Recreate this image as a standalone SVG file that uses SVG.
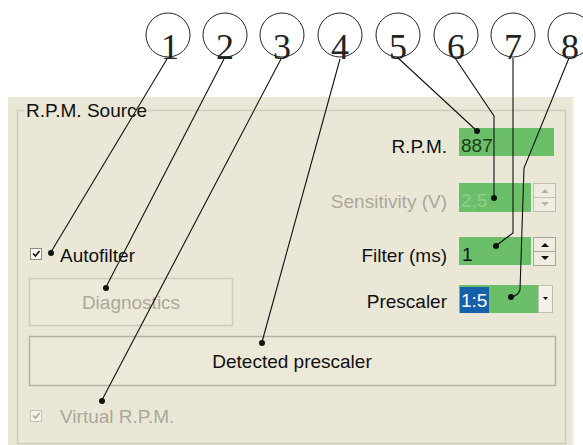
<svg xmlns="http://www.w3.org/2000/svg" width="583" height="445" viewBox="0 0 583 445">
<style>
.num{font-family:"Liberation Serif","Times New Roman",serif;font-size:36px;fill:#222;text-anchor:middle}
.ui{font-family:"Liberation Sans",Arial,sans-serif;font-size:19px;fill:#111}
.dis{fill:#ACA899}
.r{text-anchor:end}
.c{text-anchor:middle}
.ring{fill:none;stroke:#222;stroke-width:1}
.ld{fill:none;stroke:#111;stroke-width:1.1}
.dot{fill:#111}
.fld{fill:#6CBF69}
.btn{fill:#ECE9D8;stroke:#B5B2A2;stroke-width:1.5}
.spin{fill:#EFEDE2;stroke:#C2BFB0;stroke-width:1}
</style>
<rect width="583" height="445" fill="#fff"/>
<g id="panel">
<rect x="8" y="97" width="566" height="348" fill="#EAE7D7"/>
<line x1="573.5" y1="97" x2="573.5" y2="445" stroke="#F7F6F0" stroke-width="2"/>
<path d="M24 110.5H17.5V443.5H565.5V110.5H148" fill="none" stroke="#CFCCBC" stroke-width="1.5"/>
<text class="ui" x="26" y="117">R.P.M. Source</text>
</g>
<g id="autofilter">
<rect x="30.5" y="248.5" width="11" height="11" fill="#fff" stroke="#8E8B7C"/>
<path d="M33 253.5l2.5 2.5 4-5" fill="none" stroke="#111" stroke-width="1.6"/>
<text class="ui" x="60" y="262">Autofilter</text>
</g>
<g id="diagnostics">
<rect class="btn" x="29.5" y="278.5" width="203" height="47" style="stroke:#CFCCBD"/>
<text class="ui dis c" x="131" y="309">Diagnostics</text>
</g>
<g id="detected">
<rect class="btn" x="29.5" y="336.5" width="526" height="49"/>
<text class="ui c" x="292" y="368">Detected prescaler</text>
</g>
<g id="virtual">
<rect x="30.5" y="410.5" width="11" height="11" fill="#F3F1E8" stroke="#C6C3B3"/>
<path d="M33 415.5l2.5 2.5 4-5" fill="none" stroke="#ACA899" stroke-width="1.6"/>
<text class="ui dis" x="60" y="423">Virtual R.P.M.</text>
</g>
<g id="rpm">
<text class="ui r" x="447" y="153">R.P.M.</text>
<rect class="fld" x="459" y="128" width="95" height="28"/>
<text class="ui" x="461" y="152" style="fill:#1C3A1E">887</text>
</g>
<g id="sensitivity">
<text class="ui dis r" x="447" y="208">Sensitivity (V)</text>
<rect class="fld" x="459" y="183" width="72" height="29"/>
<text class="ui" x="461" y="207" style="fill:#93CD8F">2,5</text>
<rect class="spin" x="533.5" y="183.5" width="22" height="14"/>
<rect class="spin" x="533.5" y="197.5" width="22" height="14"/>
<path d="M541 193h8l-4-4z M541 202h8l-4 4z" fill="#B8B5A6"/>
</g>
<g id="filter">
<text class="ui r" x="447" y="262">Filter (ms)</text>
<rect class="fld" x="459" y="237" width="72" height="28"/>
<text class="ui" x="462" y="261">1</text>
<rect class="spin" x="533.5" y="237.5" width="22" height="14" style="stroke:#A9A696"/>
<rect class="spin" x="533.5" y="251.5" width="22" height="14" style="stroke:#A9A696"/>
<path d="M541 247h8l-4-4z M541 256h8l-4 4z" fill="#111"/>
</g>
<g id="prescaler">
<text class="ui r" x="447" y="308">Prescaler</text>
<rect class="fld" x="459" y="285" width="94" height="28"/>
<rect x="460" y="287" width="29" height="26" fill="#1560A8"/>
<text class="ui" x="461" y="307" style="fill:#fff">1:5</text>
<rect x="538.5" y="285.5" width="14" height="27" fill="#F3F1E8" stroke="#C2BFB0"/>
<path d="M543 297h5l-2.5 3z" fill="#111"/>
</g>
<g id="callout1"><circle class="ring" cx="168" cy="35" r="22"/><text class="num" x="170" y="59">1</text></g>
<g id="callout2"><circle class="ring" cx="225" cy="35" r="22"/><text class="num" x="225" y="59">2</text></g>
<g id="callout3"><circle class="ring" cx="282" cy="35" r="22"/><text class="num" x="282" y="59">3</text></g>
<g id="callout4"><circle class="ring" cx="340" cy="35" r="22"/><text class="num" x="340" y="59">4</text></g>
<g id="callout5"><circle class="ring" cx="398" cy="35" r="22"/><text class="num" x="398" y="59">5</text></g>
<g id="callout6"><circle class="ring" cx="456" cy="35" r="22"/><text class="num" x="456" y="59">6</text></g>
<g id="callout7"><circle class="ring" cx="513" cy="35" r="22"/><text class="num" x="513" y="59">7</text></g>
<g id="callout8"><circle class="ring" cx="570" cy="35" r="22"/><text class="num" x="570" y="59">8</text></g>
<g id="connectors">
<path class="ld" d="M167 59L51 252"/>
<path class="ld" d="M224 59L106 287"/>
<path class="ld" d="M281 59L102 400"/>
<path class="ld" d="M340 59L262 342"/>
<path class="ld" d="M397 57L477 131"/>
<path class="ld" d="M455 58L494 116V198"/>
<path class="ld" d="M513 58V233L497 245"/>
<path class="ld" d="M569 58L524 168L520 290Q518 296 511 297"/>
<circle class="dot" cx="51" cy="253" r="3"/>
<circle class="dot" cx="106" cy="288" r="3"/>
<circle class="dot" cx="102" cy="401" r="3"/>
<circle class="dot" cx="262" cy="343" r="3"/>
<circle class="dot" cx="477" cy="131" r="3"/>
<circle class="dot" cx="494" cy="198" r="3"/>
<circle class="dot" cx="496" cy="246" r="3"/>
<circle class="dot" cx="511" cy="297" r="3"/>
</g>
</svg>
